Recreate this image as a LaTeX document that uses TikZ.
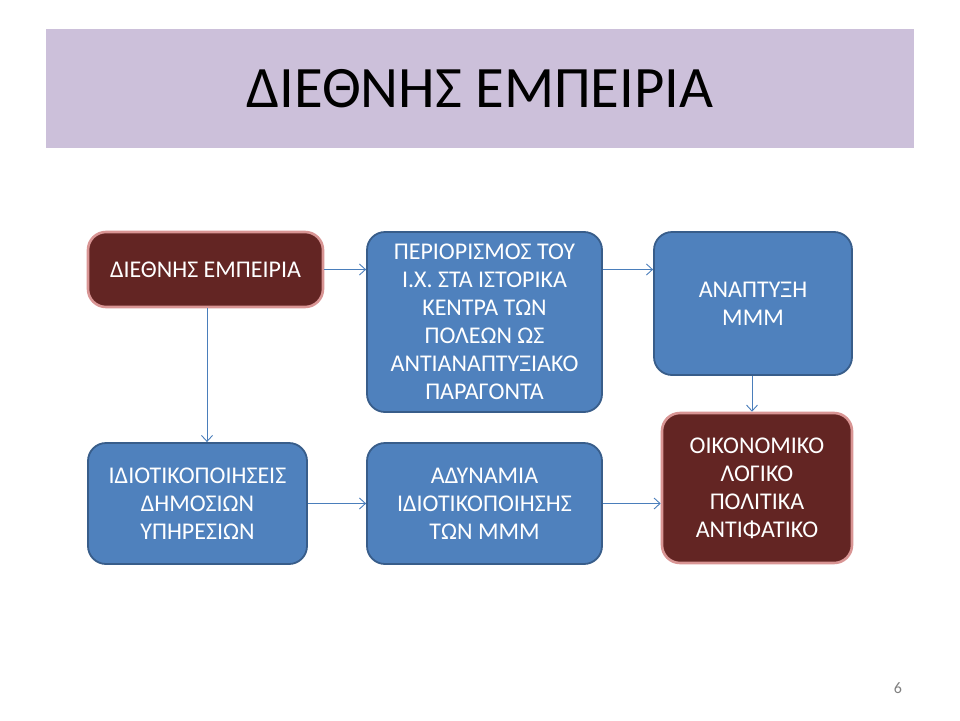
\documentclass[tikz,border=0pt]{standalone}
\usepackage{fontspec}
\setmainfont{Carlito}
\usetikzlibrary{arrows.meta}
\definecolor{titlebg}{RGB}{204,192,218}
\definecolor{boxblue}{RGB}{79,129,189}
\definecolor{blueedge}{RGB}{56,93,138}
\definecolor{boxred}{RGB}{99,37,35}
\definecolor{rededge}{RGB}{217,149,148}
\definecolor{linkblue}{RGB}{74,126,187}
\tikzset{
  bluebox/.style={draw=blueedge, line width=1.8pt, fill=boxblue, rounded corners=18pt,
    text=white, align=center, font=\fontsize{24}{28}\selectfont, inner sep=0pt},
  redbox/.style={draw=rededge, line width=2.6pt, fill=boxred, rounded corners=18pt,
    text=white, align=center, font=\fontsize{24}{28}\selectfont, inner sep=0pt},
  link/.style={draw=linkblue, line width=0.9pt, -{Straight Barb[length=6pt,width=11pt,line width=0.9pt]}}
}
\begin{document}
\begin{tikzpicture}[x=1pt,y=-1pt]
\useasboundingbox (0,0) rectangle (960,720);
\fill[white] (0,0) rectangle (960,720);
\node (titlebar) [fill=titlebg, minimum width=868pt, minimum height=119pt, inner sep=0pt,
  font=\fontsize{58.7}{64}\selectfont] at (480,88.5) {ΔΙΕΘΝΗΣ ΕΜΠΕΙΡΙΑ};

\node (b1) [redbox, minimum width=235pt, minimum height=75pt] at (205.5,269.5) {ΔΙΕΘΝΗΣ ΕΜΠΕΙΡΙΑ};
\node (b2) [bluebox, minimum width=235pt, minimum height=180pt] at (484.5,322) {ΠΕΡΙΟΡΙΣΜΟΣ ΤΟΥ\\Ι.Χ. ΣΤΑ ΙΣΤΟΡΙΚΑ\\ΚΕΝΤΡΑ ΤΩΝ\\ΠΟΛΕΩΝ ΩΣ\\ΑΝΤΙΑΝΑΠΤΥΞΙΑΚΟ\\ΠΑΡΑΓΟΝΤΑ};
\node (b3) [bluebox, minimum width=198pt, minimum height=143pt] at (753,303.5) {ΑΝΑΠΤΥΞΗ\\ΜΜΜ};
\node (b4) [redbox, minimum width=190pt, minimum height=150pt] at (757,488) {ΟΙΚΟΝΟΜΙΚΟ\\ΛΟΓΙΚΟ\\ΠΟΛΙΤΙΚΑ\\ΑΝΤΙΦΑΤΙΚΟ};
\node (b5) [bluebox, minimum width=219pt, minimum height=121pt] at (197.5,503.5) {ΙΔΙΟΤΙΚΟΠΟΙΗΣΕΙΣ\\ΔΗΜΟΣΙΩΝ\\ΥΠΗΡΕΣΙΩΝ};
\node (b6) [bluebox, minimum width=235pt, minimum height=121pt] at (484.5,503.5) {ΑΔΥΝΑΜΙΑ\\ΙΔΙΟΤΙΚΟΠΟΙΗΣΗΣ\\ΤΩΝ ΜΜΜ};

\draw[link] (b1.east) -- (b1.east -| b2.west);
\draw[link] (b2.east |- b1.east) -- (b3.west |- b1.east);
\draw[link] (b3.south -| 752,0) -- (b4.north -| 752,0);
\draw[link] (b1.south -| 207,0) -- (b5.north -| 207,0);
\draw[link] (b5.east) -- (b6.west);
\draw[link] (b6.east) -- (b4.west |- b6.east);

\node (pg) [text=gray, font=\fontsize{16}{18}\selectfont] at (898,688) {6};
\end{tikzpicture}
\end{document}
